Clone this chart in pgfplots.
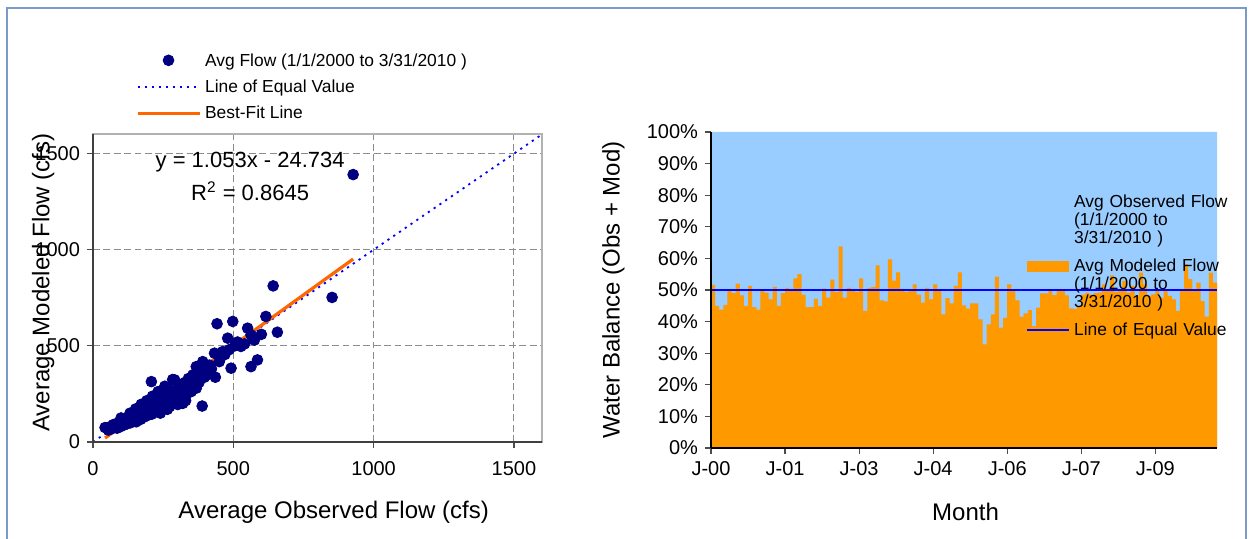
\documentclass[border=0pt]{standalone}
\usepackage{fontspec}
\setmainfont{Liberation Sans}
\usepackage{pgfplots}
\pgfplotsset{compat=1.18}
\definecolor{navyd}{HTML}{000080}
\definecolor{fitorange}{HTML}{FF6600}
\definecolor{obsblue}{HTML}{99CCFF}
\definecolor{modorange}{HTML}{FF9900}
\definecolor{framecol}{HTML}{7A9BC9}
\definecolor{gridgrey}{HTML}{8C8C8C}
\pgfplotsset{
  longline/.style={legend image code/.code={\draw[##1] (0pt,2.9pt) -- (31pt,2.9pt);}},
  scatleg/.style={legend image code/.code={\draw[##1] plot coordinates {(15.5pt,3pt)};}},
  arealeg/.style={legend image code/.code={\path[##1] (0pt,0pt) rectangle (21pt,5.2pt);}},
  shortline/.style={legend image code/.code={\draw[##1] (0pt,3pt) -- (21pt,3pt);}},
}
\begin{document}
\begin{tikzpicture}
\useasboundingbox (0,0) rectangle (626pt,269.5pt);
\fill[white] (0,0) rectangle (626pt,269.5pt);
\draw[framecol, line width=1pt] (3.4pt,-5pt) rectangle (623pt,265.4pt);
% ---------------- left: scatter ----------------
\begin{axis}[
  at={(46.5pt,48.5pt)}, anchor=south west,
  width=224.5pt, height=153.8pt, scale only axis,
  xmin=0, xmax=1600, ymin=0, ymax=1600,
  xtick={0,500,1000,1500}, ytick={0,500,1000,1500},
  xticklabels={0,500,1000,1500}, yticklabels={0,500,1000,1500},
  /pgf/number format/assume math mode=true,
  tick align=outside, tick pos=left, major tick length=3pt,
  tick style={black!70, line width=0.6pt},
  ticklabel style={font=\fontsize{10}{12}\selectfont},
  xticklabel style={yshift=-3pt},
  grid=major,
  major grid style={gridgrey, dash pattern=on 3.4pt off 1.8pt, line width=0.5pt},
  axis line style={gray!60, line width=1pt},
  xlabel={Average Observed Flow (cfs)},
  ylabel={Average Modeled Flow (cfs)},
  label style={font=\fontsize{12}{14}\selectfont},
  xlabel style={at={(axis description cs:0.536,-0.228)}, anchor=center},
  ylabel style={at={(axis description cs:-0.111,0.518)}, anchor=center},
  longline,
  legend style={at={(0.0947,1.2616)}, anchor=north west, draw=none, fill=none,
    inner sep=0pt, row sep=5.15pt, column sep=2pt,
    nodes={inner sep=0pt, text height=6pt, text depth=2pt, font=\fontsize{8.7}{10}\selectfont},
    cells={anchor=base west}},
  clip=false,
]
\addplot[blue, line width=0.9pt, dash pattern=on 1.1pt off 2.4pt, forget plot] coordinates {(0,0) (1600,1600)};
\addplot[only marks, mark=*, mark size=2.7pt, color=navyd, scatleg] table {
x y
43 75
55 62
62 80
68 70
72 90
78 78
82 95
86 72
90 85
95 100
98 80
100 125
102 92
106 110
110 88
114 100
118 125
122 95
126 108
130 118
132 150
134 100
138 130
142 112
146 140
150 122
152 172
154 105
158 135
162 150
166 128
170 118
172 196
174 160
178 142
182 130
186 170
190 152
192 215
194 138
198 180
202 160
208 314
210 145
212 238
214 195
218 172
222 158
226 210
230 188
232 262
234 165
238 220
240 150
242 200
246 178
250 235
254 212
256 290
258 190
262 245
265 170
267 280
270 222
273 184
278 255
282 232
284 325
286 210
291 323
295 262
300 240
302 195
304 285
308 250
312 225
316 300
320 201
324 270
328 310
330 215
332 245
336 290
340 330
345 300
350 262
356 349
360 320
365 290
368 280
368 392
372 340
378 310
382 360
389 187
391 418
397 337
402 375
408 350
415 400
422 380
433 462
436 337
442 615
450 418
455 440
462 470
470 455
480 540
485 480
492 384
498 627
505 500
515 520
527 497
540 510
551 592
563 392
563 557
575 530
586 427
600 560
616 653
642 812
657 571
852 752
927 1391
};
\addlegendentry{Avg Flow (1/1/2000 to 3/31/2010 )}
\addlegendimage{blue, line width=0.9pt, dash pattern=on 1.1pt off 2.4pt}
\addlegendentry{Line of Equal Value}
\addplot[fitorange, line width=1.6pt] coordinates {(43,20.6) (927,951.4)};
\addlegendentry{Best-Fit Line}
\draw[black!75, line width=1.2pt] (rel axis cs:0,1) -- (rel axis cs:0,0) -- (rel axis cs:1,0);
\node[font=\fontsize{11}{13}\selectfont] at (axis cs:560,1455) {y = 1.053x - 24.734};
\node[font=\fontsize{11}{13}\selectfont] at (axis cs:560,1306) {R\textsuperscript{2} = 0.8645};
\end{axis}
% ---------------- right: water balance ----------------
\begin{axis}[
  at={(355.5pt,45.5pt)}, anchor=south west,
  width=253pt, height=158pt, scale only axis,
  xmin=0, xmax=123, ymin=0, ymax=100,
  xtick={0,18,36,54,72,90,108},
  xticklabels={J-00,J-01,J-03,J-04,J-06,J-07,J-09},
  ytick={0,10,20,30,40,50,60,70,80,90,100},
  yticklabels={0\%,10\%,20\%,30\%,40\%,50\%,60\%,70\%,80\%,90\%,100\%},
  /pgf/number format/assume math mode=true,
  axis lines=left, axis line style={-, black, line width=1pt},
  tick align=outside, major tick length=3pt,
  tick style={black!70, line width=0.6pt},
  ticklabel style={font=\fontsize{10}{12}\selectfont},
  xlabel={Month}, ylabel={Water Balance (Obs + Mod)},
  label style={font=\fontsize{12}{14}\selectfont},
  xlabel style={at={(axis description cs:0.503,-0.2025)}, anchor=center},
  ylabel style={at={(axis description cs:-0.193,0.5)}, anchor=center},
  legend style={at={(0.6227,0.8028)}, anchor=north west, draw=none, fill=none,
    inner sep=0pt, row sep=6pt, column sep=1.8pt,
    nodes={inner sep=0pt, text depth=, text width=84pt, align=left,
      font=\fontsize{8.7}{9}\selectfont},
    cells={anchor=base west}},
  axis on top,
  clip=false,
]
\addplot[fill=obsblue, draw=none, const plot, arealeg]
  coordinates {(0,100) (123,100)} \closedcycle;
\addlegendentry{Avg Observed Flow\\(1/1/2000 to\\3/31/2010 )}
\addplot[fill=modorange, draw=none, const plot mark left, arealeg] table {
x y
0 51.6
1 45.0
2 43.8
3 45.3
4 49.7
5 49.0
6 52.0
7 48.3
8 45.0
9 51.3
10 44.6
11 43.8
12 49.7
13 49.2
14 47.0
15 51.0
16 45.0
17 49.0
18 50.7
19 50.0
20 53.7
21 55.0
22 48.5
23 44.6
24 44.6
25 47.2
26 45.0
27 50.5
28 47.6
29 53.3
30 49.4
31 63.8
32 47.6
33 50.7
34 49.7
35 49.4
36 53.7
37 43.4
38 50.7
39 51.0
40 57.8
41 46.7
42 46.4
43 59.7
44 53.0
45 55.6
46 50.4
47 49.4
48 49.7
49 51.8
50 48.5
51 46.0
52 50.7
53 47.0
54 51.8
55 49.7
56 42.3
57 47.4
58 45.8
59 51.3
60 55.6
61 45.1
62 44.1
63 45.8
64 45.8
65 40.7
66 32.8
67 39.1
68 42.3
69 54.2
70 38.1
71 41.2
72 51.8
73 50.2
74 46.7
75 41.6
76 42.6
77 43.6
78 38.6
79 44.4
80 48.9
81 48.9
82 49.7
83 48.4
84 49.7
85 49.7
86 48.3
87 44.2
88 44.0
89 45.0
90 48.5
91 49.2
92 48.5
93 49.0
94 49.2
95 51.8
96 49.7
97 54.6
98 49.4
99 50.2
100 52.8
101 49.2
102 51.3
103 48.1
104 55.5
105 51.8
106 48.1
107 48.6
108 49.7
109 47.6
110 49.7
111 48.1
112 47.0
113 43.4
114 50.2
115 58.1
116 53.4
117 50.2
118 52.3
119 46.5
120 41.6
121 55.5
122 52.3
123 52.3
} \closedcycle;
\addlegendentry{Avg Modeled Flow\\(1/1/2000 to\\3/31/2010 )}
\addplot[blue, line width=1pt, shortline] coordinates {(0,50) (123,50)};
\addlegendentry{Line of Equal Value}
\end{axis}
\end{tikzpicture}
\end{document}
